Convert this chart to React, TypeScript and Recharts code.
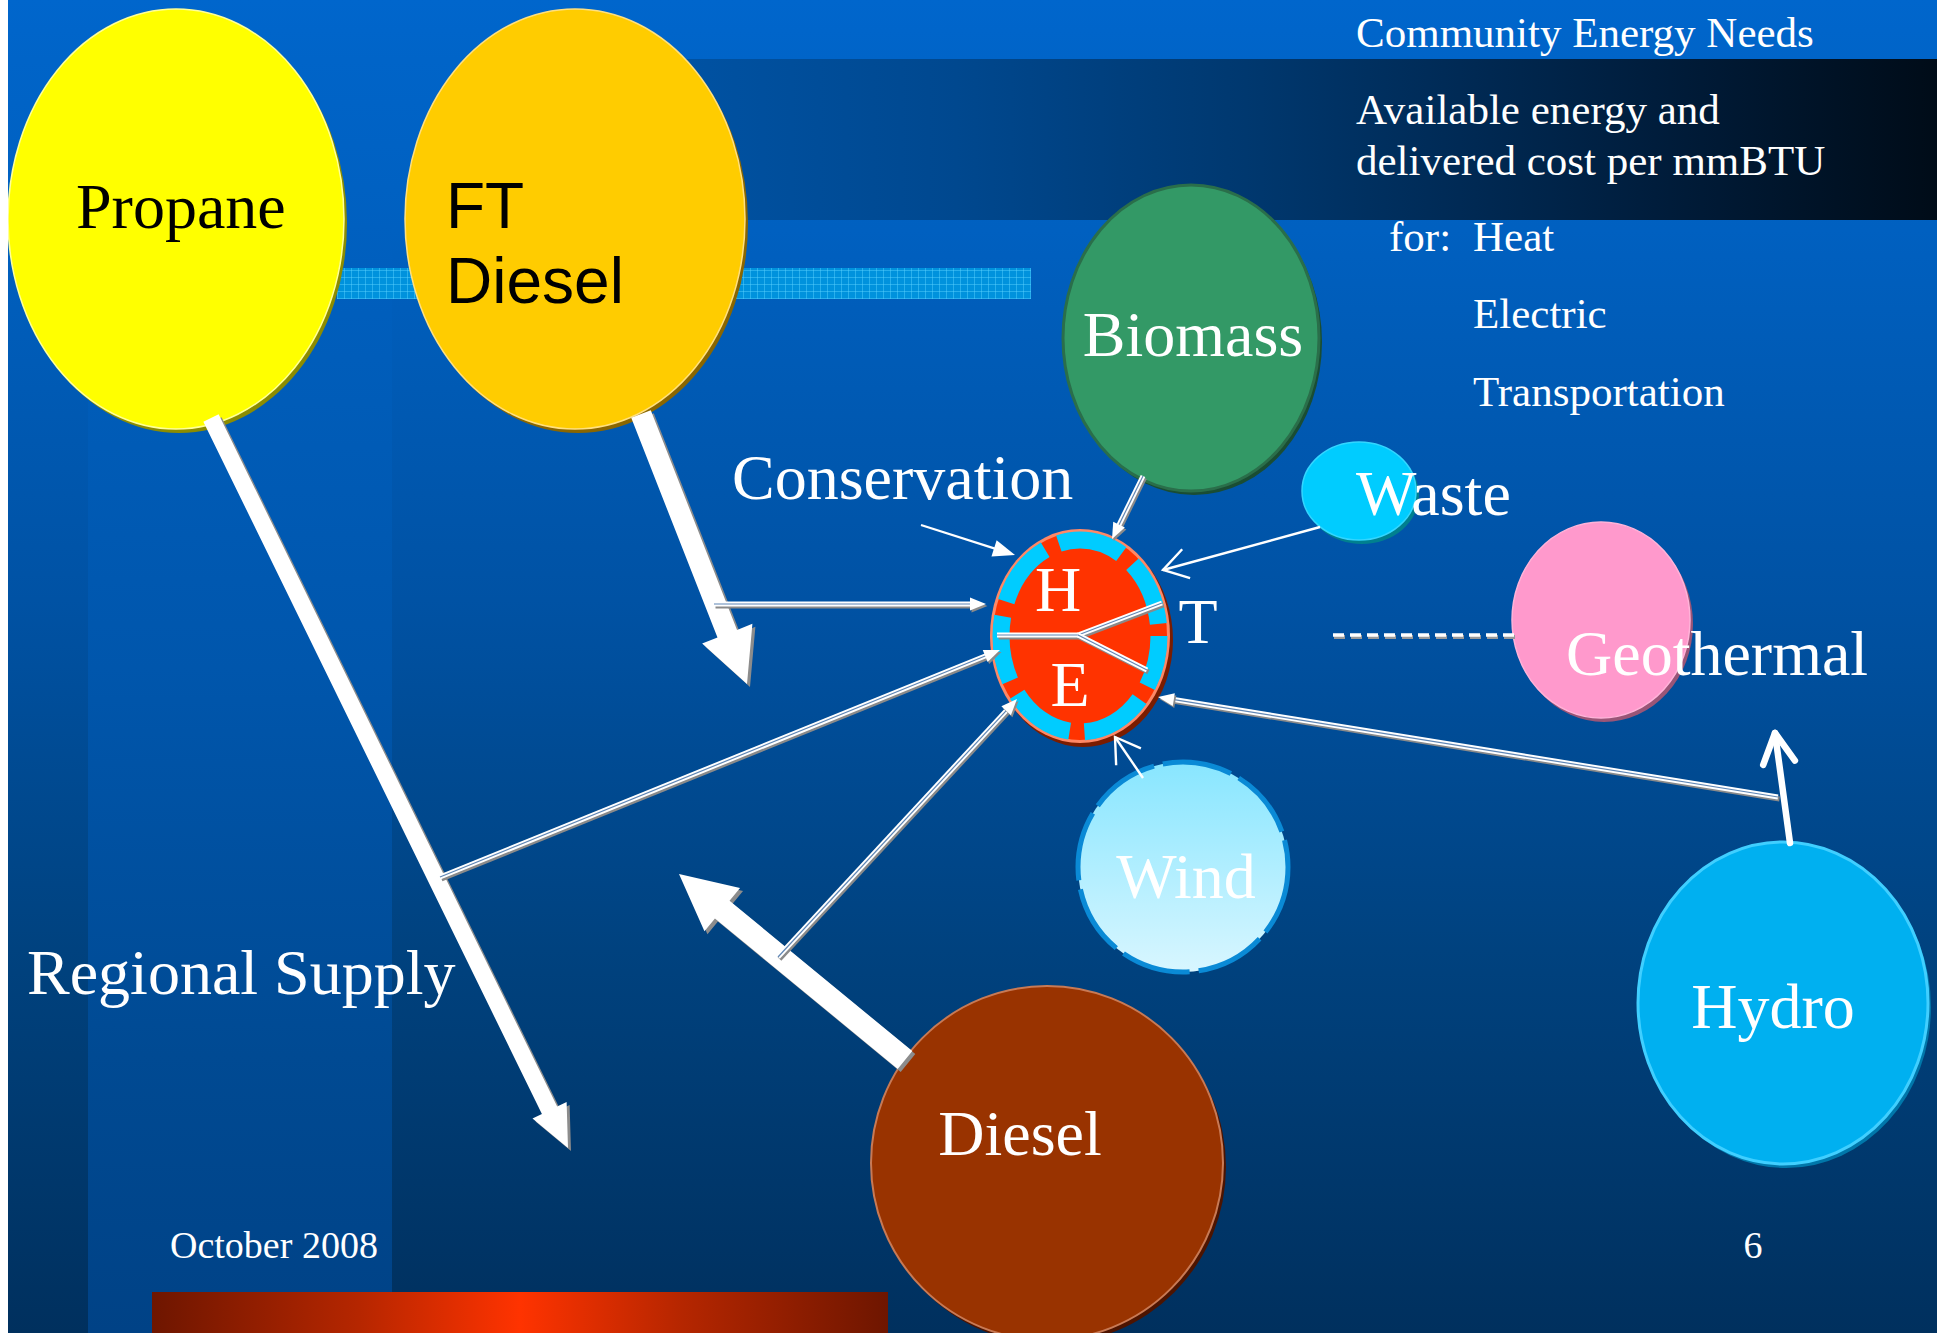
import React from 'react';
import { ScatterChart, Scatter, XAxis, YAxis } from 'recharts';

const CHART_W = 1929;
const CHART_H = 1333;
const X_DOMAIN: [number, number] = [8, 1937];
const Y_DOMAIN: [number, number] = [0, 1333];

const SERIF = '"Liberation Serif", "Times New Roman", Times, serif';
const SANS = '"Liberation Sans", Arial, Helvetica, sans-serif';

// ---- Energy sources (nodes): centre + radii in slide units ----
const sourceNames = ['Propane', 'FT Diesel', 'Biomass', 'Waste', 'Geothermal', 'Hydro', 'Wind', 'Diesel'];
const sourceLabels = [['Propane'], ['FT', 'Diesel'], ['Biomass'], ['Waste'], ['Geothermal'], ['Hydro'], ['Wind'], ['Diesel']];
const sourceX = [176, 575, 1191, 1359, 1601, 1783, 1183, 1047];
const sourceY = [219, 219, 338, 491, 620, 1003, 867, 1163];
const sourceRx = [168, 170, 128, 57, 89, 145, 105, 176];
const sourceRy = [210, 210, 153, 49, 98, 161, 105, 177];

// ---- Community need hub (Heat / Electric / Transportation) ----
const hubName = 'HET';
const hubLetters = ['H', 'E'];
const hubX = 1080;
const hubY = 636;
const hubRx = 90;
const hubRy = 107;

// ---- Flows (from -> to) ----
const flowNames = [
  'propaneSupply', 'ftSupply', 'dieselSupply',
  'ftToHub', 'propaneToHub', 'dieselToHub', 'biomassToHub', 'hydroToHub',
  'conservation', 'wasteToHub', 'windToHub', 'hydroToGeo', 'geoLink',
  'splitHeat', 'splitTransport', 'splitElectric',
];
const flowKinds = [
  'thick', 'thick', 'thick',
  'double', 'double', 'double', 'double', 'double',
  'thinFilled', 'thinChevron', 'thinChevron', 'boldChevron', 'dashed',
  'split', 'split', 'split',
];
const flowFromX = [211, 641, 905, 714, 440, 778, 1143, 1778, 921, 1320, 1143, 1790, 1333, 997, 1078, 1078];
const flowFromY = [418, 414, 1060, 604, 877, 957, 476, 797, 525, 527, 778, 843, 635, 635, 635, 635];
const flowToX = [568, 747, 679, 986, 1000, 1017, 1112, 1158, 1015, 1163, 1115, 1775, 1516, 1078, 1162, 1147];
const flowToY = [1148, 684, 874, 604, 650, 699, 539, 697, 555, 570, 737, 733, 635, 635, 603, 670];

// ---- Free text ----
const annotationTexts = [
  'Conservation', 'Regional Supply', 'T',
  'Community Energy Needs', 'Available energy and', 'delivered cost per mmBTU',
  'for:', 'Heat', 'Electric', 'Transportation',
  'October 2008', '6',
];
const annotationRoles = ['big', 'big', 'bigMid', 'side', 'side', 'side', 'side', 'side', 'side', 'side', 'foot', 'footMid'];
const annotationX = [732, 27, 1198, 1356, 1356, 1356, 1389, 1473, 1473, 1473, 170, 1753];
const annotationY = [499, 994, 643, 47, 124, 175, 251, 251, 328, 406, 1258, 1258];

// ---------------- styles ----------------
const nodeStyle: Record<string, any> = {
  Propane: { fill: '#ffff00', shadow: '#8c8c00', edge: '#ffff99', text: '#000000', font: SERIF, lab: [[-100, 9, 'start']] },
  'FT Diesel': { fill: '#ffcc00', shadow: '#8a6600', edge: '#ffe080', text: '#000000', font: SANS, lab: [[-129, 9, 'start'], [-129, 84, 'start']] },
  Biomass: { fill: '#339966', shadow: '#1a4d33', edge: '#2a6e4a', edgeW: 3, text: '#ffffff', font: SERIF, lab: [[2, 18, 'middle']] },
  Waste: { fill: '#00ccff', shadow: '#00808f', edge: '#33d6ff', text: '#ffffff', font: SERIF, lab: [[-3, 24, 'start']] },
  Geothermal: { fill: '#ff99cc', shadow: '#9a5577', edge: '#ffb3d9', text: '#ffffff', font: SERIF, lab: [[-35, 55, 'start']] },
  Hydro: { fill: '#00b0f0', shadow: '#0077aa', edge: '#40cfff', edgeW: 3, text: '#ffffff', font: SERIF, lab: [[-10, 25, 'middle']] },
  Wind: { fill: 'url(#windFill)', shadow: null, edge: '#0a8ad6', edgeW: 5, dash: '70 9', text: '#ffffff', font: SERIF, lab: [[3, 31, 'middle']] },
  Diesel: { fill: '#993300', shadow: '#4d1400', edge: '#c87a55', edgeW: 2, text: '#ffffff', font: SERIF, lab: [[-27, -8, 'middle']] },
};

const annotationStyle: Record<string, any> = {
  big: { size: 64, anchor: 'start' },
  bigMid: { size: 64, anchor: 'middle' },
  side: { size: 43, anchor: 'start' },
  foot: { size: 38, anchor: 'start' },
  footMid: { size: 38, anchor: 'middle' },
};

const thickSize: Record<string, [number, number, number]> = {
  propaneSupply: [17, 42, 38],
  ftSupply: [21, 54, 54],
  dieselSupply: [23, 56, 56],
};

// ---------------- helpers ----------------
function unit(a: any, b: any) {
  const dx = b.x - a.x;
  const dy = b.y - a.y;
  const len = Math.hypot(dx, dy) || 1;
  return { ux: dx / len, uy: dy / len, nx: -dy / len, ny: dx / len };
}

function thickPolygon(a: any, b: any, w: number, L: number, hw: number, ox = 0, oy = 0) {
  const { ux, uy, nx, ny } = unit(a, b);
  const neck = { x: b.x - ux * L, y: b.y - uy * L };
  const pts = [
    [a.x + (nx * w) / 2, a.y + (ny * w) / 2],
    [neck.x + (nx * w) / 2, neck.y + (ny * w) / 2],
    [neck.x + (nx * hw) / 2, neck.y + (ny * hw) / 2],
    [b.x, b.y],
    [neck.x - (nx * hw) / 2, neck.y - (ny * hw) / 2],
    [neck.x - (nx * w) / 2, neck.y - (ny * w) / 2],
    [a.x - (nx * w) / 2, a.y - (ny * w) / 2],
  ];
  return pts.map((p) => `${p[0] + ox},${p[1] + oy}`).join(' ');
}

function headTriangle(b: any, a: any, L: number, hw: number, ox = 0, oy = 0) {
  const { ux, uy, nx, ny } = unit(a, b);
  const neck = { x: b.x - ux * L, y: b.y - uy * L };
  const pts = [
    [b.x, b.y],
    [neck.x + (nx * hw) / 2, neck.y + (ny * hw) / 2],
    [neck.x - (nx * hw) / 2, neck.y - (ny * hw) / 2],
  ];
  return pts.map((p) => `${p[0] + ox},${p[1] + oy}`).join(' ');
}

function chevron(b: any, a: any, L: number, hw: number) {
  const { ux, uy, nx, ny } = unit(a, b);
  const neck = { x: b.x - ux * L, y: b.y - uy * L };
  return `M${neck.x + (nx * hw) / 2},${neck.y + (ny * hw) / 2} L${b.x},${b.y} L${neck.x - (nx * hw) / 2},${neck.y - (ny * hw) / 2}`;
}

function shortened(a: any, b: any, d: number) {
  const { ux, uy } = unit(a, b);
  return { x: b.x - ux * d, y: b.y - uy * d };
}

const makeFlowLine = (name: string, kind: string) => (lineProps: any) => {
  const pts = lineProps.points || [];
  if (pts.length < 2) return <g />;
  const a = pts[0];
  const b = pts[1];
  if (kind === 'thick') {
    const [w, L, hw] = thickSize[name];
    return (
      <g>
        <polygon points={thickPolygon(a, b, w, L, hw, 3, 3)} fill="#8c8c8c" />
        <polygon points={thickPolygon(a, b, w, L, hw)} fill="#ffffff" />
      </g>
    );
  }
  if (kind === 'double' || kind === 'split') {
    const end = kind === 'double' ? shortened(a, b, 10) : b;
    return (
      <g>
        <line x1={a.x + 1.5} y1={a.y + 2} x2={end.x + 1.5} y2={end.y + 2} stroke="#8a8a8a" strokeWidth={5} />
        <line x1={a.x} y1={a.y} x2={end.x} y2={end.y} stroke="#ffffff" strokeWidth={5} />
        <line x1={a.x} y1={a.y} x2={end.x} y2={end.y} stroke="#5f86b5" strokeWidth={1.2} />
        {kind === 'double' && (
          <g>
            <polygon points={headTriangle(b, a, 16, 13, 1.5, 2)} fill="#8a8a8a" />
            <polygon points={headTriangle(b, a, 16, 13)} fill="#ffffff" />
          </g>
        )}
      </g>
    );
  }
  if (kind === 'thinFilled') {
    const end = shortened(a, b, 12);
    return (
      <g>
        <line x1={a.x} y1={a.y} x2={end.x} y2={end.y} stroke="#ffffff" strokeWidth={2.2} />
        <polygon points={headTriangle(b, a, 22, 17)} fill="#ffffff" />
      </g>
    );
  }
  if (kind === 'thinChevron') {
    return (
      <g>
        <line x1={a.x} y1={a.y} x2={b.x} y2={b.y} stroke="#ffffff" strokeWidth={2.4} />
        <path d={chevron(b, a, 24, 30)} fill="none" stroke="#ffffff" strokeWidth={2.4} />
      </g>
    );
  }
  if (kind === 'boldChevron') {
    return (
      <g>
        <line x1={a.x} y1={a.y} x2={b.x} y2={b.y} stroke="#ffffff" strokeWidth={6.5} strokeLinecap="round" />
        <path d={chevron(b, a, 30, 32)} fill="none" stroke="#ffffff" strokeWidth={6.5} strokeLinecap="round" strokeLinejoin="round" />
      </g>
    );
  }
  if (kind === 'dashed') {
    return (
      <g>
        <line x1={a.x + 1} y1={a.y + 2} x2={b.x + 1} y2={b.y + 2} stroke="#9a9a9a" strokeWidth={4} strokeDasharray="11 6" />
        <line x1={a.x} y1={a.y} x2={b.x} y2={b.y} stroke="#ffffff" strokeWidth={3.5} strokeDasharray="11 6" />
      </g>
    );
  }
  return <g />;
};

const EmptyShape = () => <g />;

const NodeShape = (props: any) => {
  const { cx, cy, payload } = props;
  const s = nodeStyle[payload.name];
  const { rx, ry, lines } = payload;
  return (
    <g>
      {s.shadow && <ellipse cx={cx + 3} cy={cy + 4} rx={rx} ry={ry} fill={s.shadow} />}
      <ellipse
        cx={cx}
        cy={cy}
        rx={rx}
        ry={ry}
        fill={s.fill}
        stroke={s.edge}
        strokeWidth={s.edgeW || 1.5}
        strokeDasharray={s.dash}
      />
      {lines.map((t: string, i: number) => (
        <text
          key={i}
          x={cx + s.lab[i][0]}
          y={cy + s.lab[i][1]}
          textAnchor={s.lab[i][2]}
          fontFamily={s.font}
          fontSize={64}
          fill={s.text}
        >
          {t}
        </text>
      ))}
    </g>
  );
};

const HubShape = (props: any) => {
  const { cx, cy, payload } = props;
  const { rx, ry } = payload;
  return (
    <g>
      <ellipse cx={cx + 3} cy={cy + 4} rx={rx} ry={ry} fill="#7a1c00" />
      <ellipse cx={cx} cy={cy} rx={rx} ry={ry} fill="#ff8866" />
      <ellipse cx={cx} cy={cy} rx={rx - 3} ry={ry - 3} fill="#ff3300" />
      <ellipse
        cx={cx}
        cy={cy}
        rx={rx - 11}
        ry={ry - 11}
        fill="none"
        stroke="#00ccff"
        strokeWidth={17}
        strokeDasharray="66 15"
        strokeDashoffset={14}
      />
      <text x={cx - 22} y={cy - 25} textAnchor="middle" fontFamily={SERIF} fontSize={64} fill="#ffffff">
        {payload.letters[0]}
      </text>
      <text x={cx - 10} y={cy + 70} textAnchor="middle" fontFamily={SERIF} fontSize={64} fill="#ffffff">
        {payload.letters[1]}
      </text>
    </g>
  );
};

const AnnotationShape = (props: any) => {
  const { cx, cy, payload } = props;
  const st = annotationStyle[payload.role];
  return (
    <text x={cx} y={cy} textAnchor={st.anchor} fontFamily={SERIF} fontSize={st.size} fill="#ffffff">
      {payload.text}
    </text>
  );
};

export default function App() {
  const nodeData = sourceNames.map((name, i) => ({
    name,
    x: sourceX[i],
    y: sourceY[i],
    rx: sourceRx[i],
    ry: sourceRy[i],
    lines: sourceLabels[i],
  }));
  const hubData = [{ name: hubName, x: hubX, y: hubY, rx: hubRx, ry: hubRy, letters: hubLetters }];
  const flows = flowNames.map((name, i) => ({
    name,
    kind: flowKinds[i],
    data: [
      { x: flowFromX[i], y: flowFromY[i] },
      { x: flowToX[i], y: flowToY[i] },
    ],
  }));
  const annotations = annotationTexts.map((text, i) => ({
    text,
    role: annotationRoles[i],
    x: annotationX[i],
    y: annotationY[i],
  }));
  const splitFlows = flows.filter((f) => f.kind === 'split');
  const otherFlows = flows.filter((f) => f.kind !== 'split');

  return (
    <div
      style={{
        position: 'absolute',
        left: 8,
        top: 0,
        width: CHART_W,
        height: CHART_H,
        overflow: 'hidden',
        background:
          'linear-gradient(180deg, #0066cc 0px, #0064c8 60px, #0060c0 230px, #0052a4 600px, #00427f 950px, #00305e 1333px)',
      }}
    >
      <svg width={0} height={0} style={{ position: 'absolute' }}>
        <defs>
          <linearGradient id="windFill" x1="0" y1="0" x2="0" y2="1">
            <stop offset="0%" stopColor="#88e6ff" />
            <stop offset="100%" stopColor="#d8f6ff" />
          </linearGradient>
        </defs>
      </svg>
      {/* lighter vertical band */}
      <div
        style={{
          position: 'absolute',
          left: 80,
          top: 225,
          width: 304,
          height: 1108,
          background: 'linear-gradient(180deg, #0060c0 0%, #0056ac 40%, #004a93 75%, #004286 100%)',
        }}
      />
      {/* dark header strip */}
      <div
        style={{
          position: 'absolute',
          left: 672,
          top: 59,
          width: 1257,
          height: 161,
          background: 'linear-gradient(90deg, #0052a3 0%, #00488f 22%, #00386f 45%, #002a55 62%, #001b38 80%, #000c18 100%)',
        }}
      />
      {/* patterned bar */}
      <div
        style={{
          position: 'absolute',
          left: 329,
          top: 268,
          width: 694,
          height: 31,
          backgroundColor: '#0092dd',
          backgroundImage:
            'repeating-linear-gradient(90deg, rgba(90,210,255,0.45) 0px, rgba(90,210,255,0.45) 1px, transparent 1px, transparent 7px), repeating-linear-gradient(0deg, rgba(90,210,255,0.45) 0px, rgba(90,210,255,0.45) 1px, transparent 1px, transparent 7px)',
        }}
      />
      {/* bottom red bar */}
      <div
        style={{
          position: 'absolute',
          left: 144,
          top: 1292,
          width: 736,
          height: 41,
          background: 'linear-gradient(90deg, #6e1600 0%, #b52600 28%, #ff3300 50%, #b52600 72%, #6e1600 100%)',
        }}
      />
      <div style={{ position: 'absolute', left: 0, top: 0 }}>
        <ScatterChart width={CHART_W} height={CHART_H} margin={{ top: 0, right: 0, bottom: 0, left: 0 }}>
          <XAxis type="number" dataKey="x" domain={X_DOMAIN} hide allowDataOverflow />
          <YAxis type="number" dataKey="y" domain={Y_DOMAIN} reversed hide allowDataOverflow />
          <Scatter data={nodeData} shape={NodeShape} isAnimationActive={false} />
          <Scatter data={hubData} shape={HubShape} isAnimationActive={false} />
          {otherFlows.map((f) => (
            <Scatter
              key={f.name}
              data={f.data}
              shape={EmptyShape}
              line={makeFlowLine(f.name, f.kind)}
              isAnimationActive={false}
            />
          ))}
          {splitFlows.map((f) => (
            <Scatter
              key={f.name}
              data={f.data}
              shape={EmptyShape}
              line={makeFlowLine(f.name, f.kind)}
              isAnimationActive={false}
            />
          ))}
          <Scatter data={annotations} shape={AnnotationShape} isAnimationActive={false} />
        </ScatterChart>
      </div>
    </div>
  );
}
